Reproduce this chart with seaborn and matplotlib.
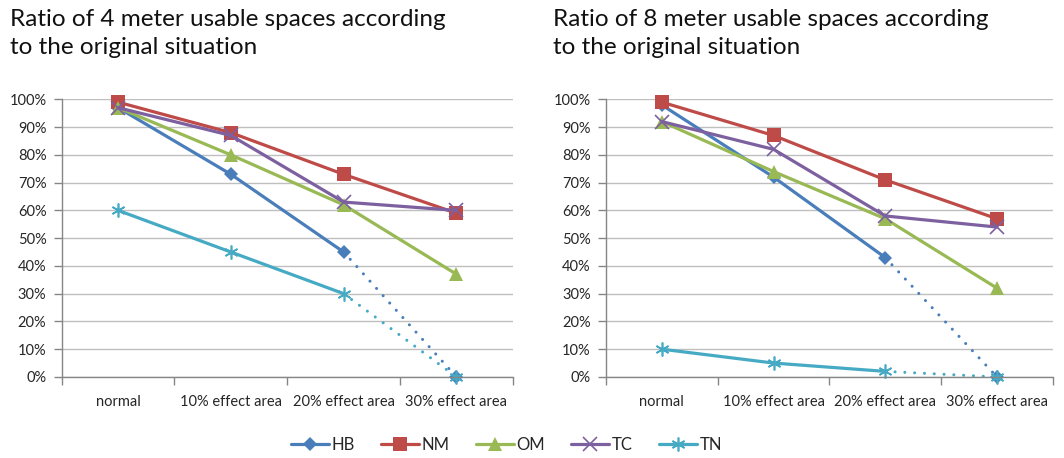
import matplotlib
matplotlib.use('Agg')
import matplotlib.pyplot as plt
import seaborn as sns
from matplotlib.ticker import PercentFormatter, FixedLocator, NullFormatter

sns.set_style('white')
plt.rcParams['font.family'] = ['Lato', 'DejaVu Sans']

# categories on the x axis
categories = ['normal', '10% effect area', '20% effect area', '30% effect area']
series = ['HB', 'NM', 'OM', 'TC', 'TN']

# 4 meter values (fraction of original)
hb_4m = [0.97, 0.73, 0.45, 0.00]
nm_4m = [0.99, 0.88, 0.73, 0.59]
om_4m = [0.97, 0.80, 0.62, 0.37]
tc_4m = [0.97, 0.87, 0.63, 0.60]
tn_4m = [0.60, 0.45, 0.30, 0.00]

# 8 meter values
hb_8m = [0.98, 0.72, 0.43, 0.00]
nm_8m = [0.99, 0.87, 0.71, 0.57]
om_8m = [0.92, 0.74, 0.57, 0.32]
tc_8m = [0.92, 0.82, 0.58, 0.54]
tn_8m = [0.10, 0.05, 0.02, 0.00]

# series whose last segment is dotted (no data -> 0)
dotted = ['HB', 'TN']

colors = {'HB': '#4a7ebb', 'NM': '#be4b48', 'OM': '#98b954', 'TC': '#7d60a0', 'TN': '#46aac5'}
markers = {'HB': 'D', 'NM': 's', 'OM': '^', 'TC': 'x', 'TN': (6, 2, 0)}
msizes = {'HB': 7.5, 'NM': 9.5, 'OM': 9.5, 'TC': 9.5, 'TN': 10}

panels = [
    ('Ratio of 4 meter usable spaces according\nto the original situation',
     [hb_4m, nm_4m, om_4m, tc_4m, tn_4m]),
    ('Ratio of 8 meter usable spaces according\nto the original situation',
     [hb_8m, nm_8m, om_8m, tc_8m, tn_8m]),
]

fig = plt.figure(figsize=(10.64, 4.58), dpi=100)
ax_left = fig.add_axes([0.058, 0.177, 0.424, 0.606])
ax_right = fig.add_axes([0.5695, 0.177, 0.420, 0.606])
title_x = [10 / 1064, 553 / 1064]

x = list(range(len(categories)))
for ax, tx, (title, values) in zip([ax_left, ax_right], title_x, panels):
    for name, vals in zip(series, values):
        n = 3 if name in dotted else 4
        mk = dict(marker=markers[name], markersize=msizes[name], color=colors[name])
        if name in ('TC', 'TN'):
            mk.update(markeredgewidth=1.2, markeredgecolor=colors[name])
        else:
            mk.update(markeredgewidth=0)
        sns.lineplot(x=x[:n], y=vals[:n], ax=ax, linewidth=2.3, label=name, clip_on=False, **mk)
        if name in dotted:
            # last segment drops to zero, drawn dotted like the source
            sns.lineplot(x=x[2:], y=vals[2:], ax=ax, linewidth=2.2, linestyle=(0, (0.01, 3.2)),
                         dash_capstyle='round', clip_on=False, **mk)
            ax.lines[-1].set_markevery([1])
        if ax.get_legend():
            ax.get_legend().remove()

    ax.set_xlim(-0.5, 3.5)
    ax.set_ylim(0, 1.0)
    ax.yaxis.set_major_locator(FixedLocator([i / 10 for i in range(11)]))
    ax.yaxis.set_major_formatter(PercentFormatter(1.0, decimals=0))
    ax.set_xticks(x)
    ax.set_xticklabels(categories)
    ax.xaxis.set_minor_locator(FixedLocator([-0.5, 0.5, 1.5, 2.5, 3.5]))
    ax.xaxis.set_minor_formatter(NullFormatter())
    ax.tick_params(axis='x', which='major', length=0, pad=13, labelsize=10.5)
    ax.tick_params(axis='x', which='minor', length=6, width=1, color='#868686', direction='out', bottom=True)
    ax.tick_params(axis='y', length=6, width=1, color='#868686', direction='out', left=True, pad=5, labelsize=10.5)
    ax.grid(axis='y', color='#bfbfbf', linewidth=1)
    ax.grid(axis='x', visible=False)
    ax.set_axisbelow(True)
    for side in ('top', 'right'):
        ax.spines[side].set_visible(False)
    for side in ('left', 'bottom'):
        ax.spines[side].set_color('#868686')
        ax.spines[side].set_linewidth(1)
    ax.set_xlabel('')
    ax.set_ylabel('')
    fig.text(tx, 1 - 9 / 458, title, ha='left', va='top', fontsize=17.5, linespacing=1.4, color='#111111')

handles, labels = ax_left.get_legend_handles_labels()
fig.legend(handles, labels, loc='center', bbox_to_anchor=(0.476, 0.029), ncol=5, frameon=False,
           fontsize=12, handlelength=2.3, columnspacing=1.55, handletextpad=0.15)

fig.savefig('out.png', dpi=100)
